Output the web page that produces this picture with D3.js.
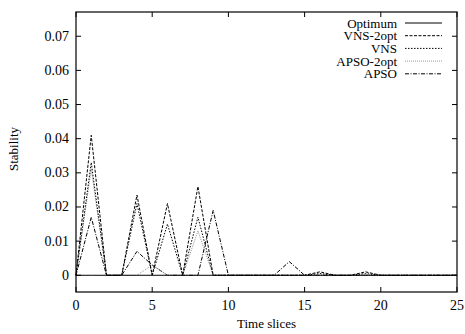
<!DOCTYPE html>
<html>
<head>
<meta charset="utf-8">
<script src="https://cdn.jsdelivr.net/npm/d3@7"></script>
<style>
  body { margin: 0; background: #fff; }
  text { font-family: "Liberation Serif", "DejaVu Serif", serif; }
</style>
</head>
<body>
<svg></svg>
<script>
const width = 465, height = 334;

// time slices 0..25
const timeSlices = d3.range(0, 26);
const optimum    = [0,0,0,0,0,0,0,0,0,0,0,0,0,0,0,0,0,0,0,0,0,0,0,0,0,0];
const vns2opt    = [0,0.041,0,0,0.0235,0,0.021,0,0.026,0,0,0,0,0,0,0,0.001,0,0,0.001,0,0,0,0,0,0];
const vns        = [0,0.033,0,0,0.021,0,0.015,0,0.017,0,0,0,0,0,0,0,0.0005,0,0,0.0005,0,0,0,0,0,0];
const apso2opt   = [0,0.031,0,0,0,0.003,0,0,0.013,0,0,0,0,0,0,0,0,0,0,0,0,0,0,0,0,0];
const apso       = [0,0.017,0,0,0.007,0.003,0,0,0,0.019,0,0,0,0,0.004,0,0,0,0,0,0,0,0,0,0,0];

const seriesNames = ["Optimum", "VNS-2opt", "VNS", "APSO-2opt", "APSO"];
const seriesValues = [optimum, vns2opt, vns, apso2opt, apso];
const xTicks = [0, 5, 10, 15, 20, 25];
const yTicks = [0, 0.01, 0.02, 0.03, 0.04, 0.05, 0.06, 0.07];

const styles = [
  { dash: null,        color: "#000" },
  { dash: "3,1.5",     color: "#000" },
  { dash: "1.5,1.5",   color: "#000" },
  { dash: "1,1",       color: "#999" },
  { dash: "4,1.5,1,1.5", color: "#000" }
];

const margin = { left: 76, right: 8, top: 12, bottom: 42 };
const svg = d3.select("svg").attr("width", width).attr("height", height);

const x = d3.scaleLinear().domain([0, 25]).range([margin.left, width - margin.right]);
const y = d3.scaleLinear().domain([-0.0049, 0.0771]).range([height - margin.bottom, margin.top]);

const x0 = x.range()[0], x1 = x.range()[1];
const y0 = y.range()[0], y1 = y.range()[1];

// ticks on all four sides (inward)
const tickLen = 5;
const g = svg.append("g").attr("stroke", "#000").attr("stroke-width", 1);
xTicks.forEach(t => {
  g.append("line").attr("x1", x(t)).attr("x2", x(t)).attr("y1", y0).attr("y2", y0 - tickLen);
  g.append("line").attr("x1", x(t)).attr("x2", x(t)).attr("y1", y1).attr("y2", y1 + tickLen);
});
yTicks.forEach(t => {
  g.append("line").attr("x1", x0).attr("x2", x0 + tickLen).attr("y1", y(t)).attr("y2", y(t));
  g.append("line").attr("x1", x1).attr("x2", x1 - tickLen).attr("y1", y(t)).attr("y2", y(t));
});

svg.selectAll(".xl").data(xTicks).enter().append("text")
  .attr("x", d => x(d)).attr("y", y0 + 18)
  .attr("text-anchor", "middle").attr("font-size", 14)
  .text(d => d);

svg.selectAll(".yl").data(yTicks).enter().append("text")
  .attr("x", x0 - 7).attr("y", d => y(d) + 4.5)
  .attr("text-anchor", "end").attr("font-size", 14)
  .text(d => d === 0 ? "0" : d3.format(".2f")(d));

svg.append("text")
  .attr("x", (x0 + x1) / 2).attr("y", 328)
  .attr("text-anchor", "middle").attr("font-size", 13)
  .text("Time slices");

svg.append("text")
  .attr("transform", "translate(18,149) rotate(-90)")
  .attr("text-anchor", "middle").attr("font-size", 13)
  .text("Stability");

// series lines, drawn back to front
const line = d3.line().x((d, i) => x(timeSlices[i])).y(d => y(d));
seriesValues.map((v, i) => i).reverse().forEach(i => {
  svg.append("path")
    .attr("d", line(seriesValues[i]))
    .attr("fill", "none")
    .attr("stroke", styles[i].color)
    .attr("stroke-width", 1)
    .attr("stroke-dasharray", styles[i].dash);
});

// legend
const legend = svg.append("g");
seriesNames.forEach((name, i) => {
  const ly = 23 + i * 12.7;
  legend.append("text")
    .attr("x", 397).attr("y", ly + 4.5)
    .attr("text-anchor", "end").attr("font-size", 13)
    .text(name);
  legend.append("line")
    .attr("x1", 405).attr("x2", 442).attr("y1", ly).attr("y2", ly)
    .attr("stroke", styles[i].color).attr("stroke-width", 1)
    .attr("stroke-dasharray", styles[i].dash);
});

// frame
svg.append("rect")
  .attr("x", x0).attr("y", y1)
  .attr("width", x1 - x0).attr("height", y0 - y1)
  .attr("fill", "none").attr("stroke", "#000").attr("stroke-width", 1.2);
</script>
</body>
</html>
